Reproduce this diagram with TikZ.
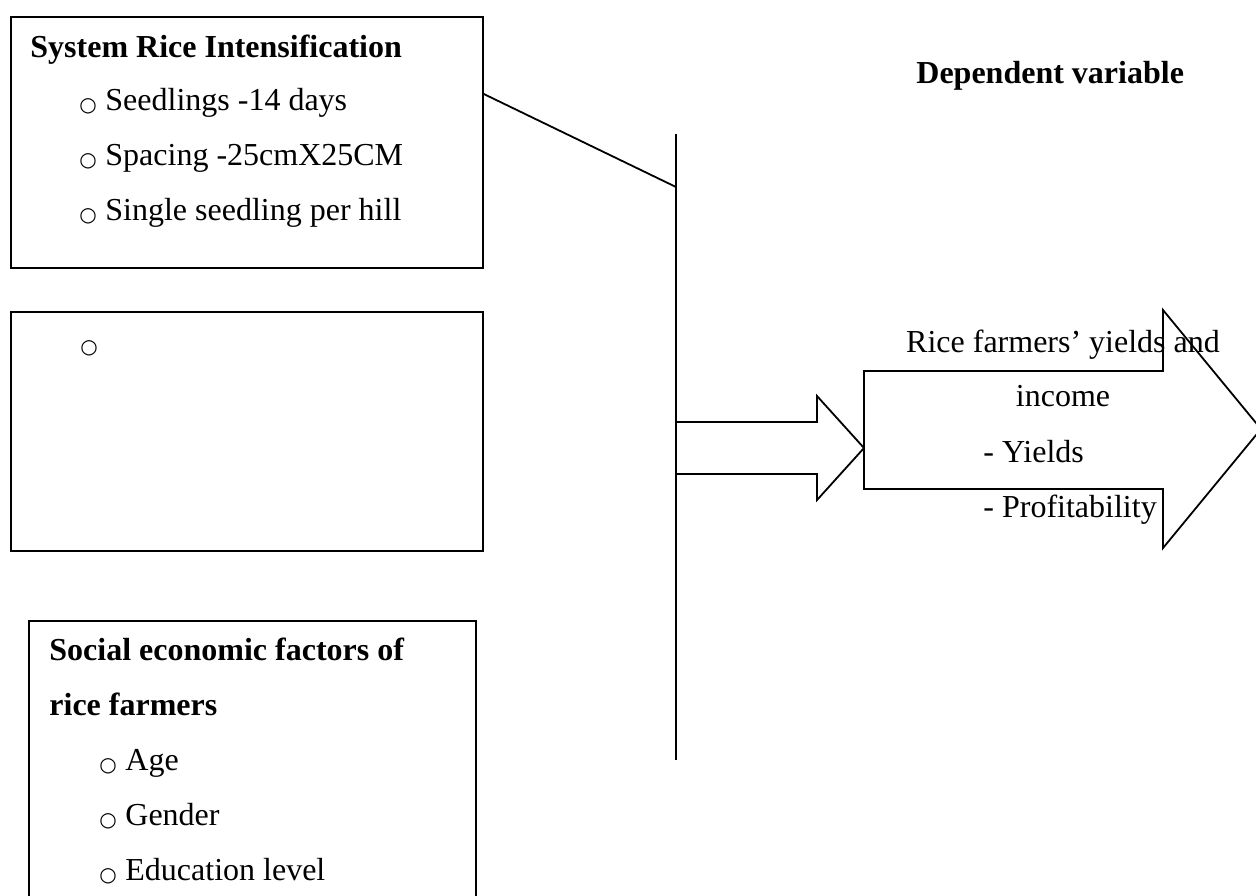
\documentclass[tikz,border=0pt]{standalone}
\usepackage{fontspec}
\setmainfont{Liberation Serif}
\newfontfamily\bulfont{DejaVu Sans}
\usetikzlibrary{calc}

% bullet item: open circle, then the text
\newcommand{\bulglyph}{\raisebox{-0.5pt}{\bulfont\fontsize{10}{12}\selectfont ○}}
\newcommand{\bul}[1]{\makebox[13pt][l]{\bulglyph}#1}

\begin{document}
\begin{tikzpicture}[
  x=0.5pt, y=-0.5pt,
  % --- node styles ---
  box/.style={draw, line width=0.9pt, inner sep=0pt, anchor=north west},
  txt/.style={anchor=base west, inner sep=0pt,
              font=\fontsize{16}{19}\selectfont},
  hdr/.style={anchor=base west, inner sep=0pt,
              font=\fontsize{16}{19}\selectfont\bfseries},
  ctr/.style={anchor=base, inner sep=0pt,
              font=\fontsize{16}{19}\selectfont},
  link/.style={line width=0.9pt, line join=miter},
]
  \def\pxu{0.5pt}

  % --- Canvas ---
  \clip (0,0) rectangle (1256,895);

  % --- Independent variable boxes ---
  \node[box, minimum width=472*\pxu, minimum height=251*\pxu] (sri)   at (10,16)  {};
  \node[box, minimum width=472*\pxu, minimum height=239*\pxu] (blank) at (10,311) {};
  \node[box, minimum width=447*\pxu, minimum height=290*\pxu] (soc)   at (28,620) {};

  % box texts
  \node[hdr] (sriT) at (30,57)  {System Rice Intensification};
  \node[txt] (sriA) at (79,110) {\bul{Seedlings -14 days}};
  \node[txt] (sriB) at (79,165) {\bul{Spacing -25cmX25CM}};
  \node[txt] (sriC) at (79,220) {\bul{Single seedling per hill}};

  \node[txt] (blankA) at (80,352) {\bulglyph};

  \node[hdr] (socT) at (49,660) {Social economic factors of};
  \node[hdr] (socU) at (49,715) {rice farmers};
  \node[txt] (socA) at (99,770) {\bul{Age}};
  \node[txt] (socB) at (99,825) {\bul{Gender}};
  \node[txt] (socC) at (99,880) {\bul{Education level}};

  % --- Collector line ---
  \coordinate (vtop)  at (676,134);
  \coordinate (vjoin) at (676,187);
  \coordinate (vbot)  at (676,760);
  \draw[link] (vtop) -- (vbot);
  \draw[link] ($(sri.north east)+(0,78)$) -- (vjoin);

  % --- Arrows ---
  \coordinate (tipS) at (864,448);
  \coordinate (tipB) at (1261,429);
  % small arrow from the line
  \draw[link] (677,422) -- (817,422) -- (817,396) -- (tipS)
              -- (817,500) -- (817,474) -- (677,474);
  % big outcome arrow
  \draw[link] (864,371) -- (1163,371) -- (1163,310) -- (tipB)
              -- (1163,548) -- (1163,489) -- (864,489) -- cycle;

  % --- Dependent variable ---
  \node[hdr] (depT) at (916,83) {Dependent variable};
  \node[ctr] (outT) at (1063,352) {Rice farmers’ yields and};
  \node[ctr] (outU) at (1063,406) {income};
  \node[txt] (outA) at (983,462)  {- Yields};
  \node[txt] (outB) at (983,517)  {- Profitability};
\end{tikzpicture}
\end{document}
